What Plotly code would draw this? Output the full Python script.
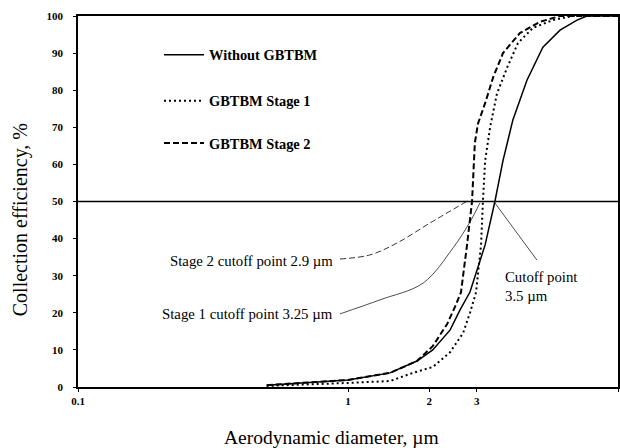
import plotly.graph_objects as go

# ---- data ----
series_names = ["Without GBTBM", "GBTBM Stage 1", "GBTBM Stage 2"]

without_x = [0.5, 0.7, 1.0, 1.43, 1.8, 2.06, 2.39, 2.6, 2.83, 3.22, 3.5, 3.75, 4.08, 4.6, 5.27, 6.1, 7.05, 7.67, 10]
without_y = [0.5, 1.1, 1.9, 3.8, 7.0, 10.0, 15.4, 20.8, 25.6, 38.3, 50, 61, 72, 82.7, 91.6, 96.2, 98.9, 100, 100]

stage1_x = [0.5, 0.7, 1.0, 1.43, 1.74, 2.06, 2.39, 2.67, 2.83, 2.98, 3.11, 3.16, 3.22, 3.36, 3.56, 3.88, 4.26, 4.84, 5.74, 6.8, 10]
stage1_y = [0.3, 0.6, 1.1, 1.6, 3.8, 5.4, 9.4, 14.6, 20, 25.5, 38.3, 50, 61, 70, 79, 86, 92.7, 96.8, 98.9, 100, 100]

stage2_x = [0.5, 0.7, 1.0, 1.43, 1.8, 2.06, 2.33, 2.49, 2.62, 2.76, 2.88, 2.95, 3.03, 3.22, 3.45, 3.75, 4.33, 5.13, 6.1, 10]
stage2_y = [0.5, 1.1, 1.9, 3.8, 7.0, 11.0, 17, 21.6, 25.5, 38.3, 50, 65.8, 71, 76.5, 83.5, 90, 95.4, 98.4, 100, 100]

# callout leader lines
call2_x = [0.934, 1.206, 1.518, 2.012, 2.735]
call2_y = [34.5, 35.6, 38.8, 44.2, 49.9]
call1_x = [0.934, 1.314, 1.896, 2.45, 2.83, 3.08]
call1_y = [19.7, 23.5, 28.0, 37.5, 44.5, 49.6]
call0_x = [3.5, 5.01]
call0_y = [49.6, 34.2]

x_tickvals = [0.1, 1, 2, 3, 10]
x_ticktext = ["0.1", "1", "2", "3", "10"]
y_tickvals = list(range(0, 101, 10))

cutoff_level = 50

FONT = "Liberation Serif, Times New Roman, serif"

fig = go.Figure()

fig.add_trace(go.Scatter(x=without_x, y=without_y, mode="lines", name=series_names[0],
                         line=dict(color="black", width=1.5), legend="legend"))
fig.add_trace(go.Scatter(x=stage1_x, y=stage1_y, mode="lines", name=series_names[1],
                         line=dict(color="black", width=2, dash="2px,3px"), legend="legend2"))
fig.add_trace(go.Scatter(x=stage2_x, y=stage2_y, mode="lines", name=series_names[2],
                         line=dict(color="black", width=2, dash="6px,3px"), legend="legend3"))

fig.add_trace(go.Scatter(x=call2_x, y=call2_y, mode="lines", showlegend=False, hoverinfo="skip",
                         line=dict(color="black", width=0.8, dash="6px,3px", shape="spline")))
fig.add_trace(go.Scatter(x=call1_x, y=call1_y, mode="lines", showlegend=False, hoverinfo="skip",
                         line=dict(color="black", width=0.7, shape="spline")))
fig.add_trace(go.Scatter(x=call0_x, y=call0_y, mode="lines", showlegend=False, hoverinfo="skip",
                         line=dict(color="black", width=0.7)))

fig.add_hline(y=cutoff_level, line=dict(color="black", width=1.5))

leg_common = dict(xanchor="left", yanchor="middle", bgcolor="rgba(0,0,0,0)",
                  font=dict(family=FONT, size=14.4, color="black", weight="bold"), itemwidth=40)

fig.update_layout(
    width=620, height=448,
    margin=dict(l=78, r=2, t=16, b=61, autoexpand=False),
    paper_bgcolor="white", plot_bgcolor="white",
    font=dict(family=FONT, color="black"),
    legend=dict(x=0.15, y=0.895, **leg_common),
    legend2=dict(x=0.15, y=0.771, **leg_common),
    legend3=dict(x=0.15, y=0.657, **leg_common),
    xaxis=dict(type="log", range=[-1, 1], tickvals=x_tickvals, ticktext=x_ticktext,
               showgrid=False, zeroline=False, showline=True, linecolor="black", linewidth=1.5,
               mirror=True, ticks="outside", ticklen=3, tickcolor="black", automargin=False,
               tickfont=dict(family=FONT, size=11, weight="bold")),
    yaxis=dict(range=[0, 100], tickvals=y_tickvals, showgrid=False, zeroline=False,
               showline=True, linecolor="black", linewidth=1.5, mirror=True, automargin=False,
               ticks="outside", ticklen=3, tickcolor="black", ticklabelstandoff=8,
               tickfont=dict(family=FONT, size=11, weight="bold")),
    annotations=[
        dict(text="Aerodynamic diameter, µm", xref="paper", yref="paper", x=0.470, y=-0.135,
             xanchor="center", yanchor="middle", showarrow=False, font=dict(size=19.5)),
        dict(text="Collection efficiency, %", xref="paper", yref="paper", x=-0.107, y=0.45,
             xanchor="center", yanchor="middle", textangle=-90, showarrow=False,
             font=dict(size=20)),
        dict(text="Stage 2 cutoff point 2.9 µm", x=-0.048, y=34, xref="x", yref="y",
             xanchor="right", showarrow=False, font=dict(size=14.8)),
        dict(text="Stage 1 cutoff point 3.25 µm", x=-0.048, y=19.7, xref="x", yref="y",
             xanchor="right", showarrow=False, font=dict(size=14.8)),
        dict(text="Cutoff point<br>3.5 µm", x=0.574, y=27.2, xref="x", yref="y",
             xanchor="left", align="left", showarrow=False, font=dict(size=14.8)),
    ],
)

fig.write_html(
    "out.html",
    config={"displayModeBar": False},
    post_script="document.body.style.margin='0';document.body.style.overflow='hidden';",
)
